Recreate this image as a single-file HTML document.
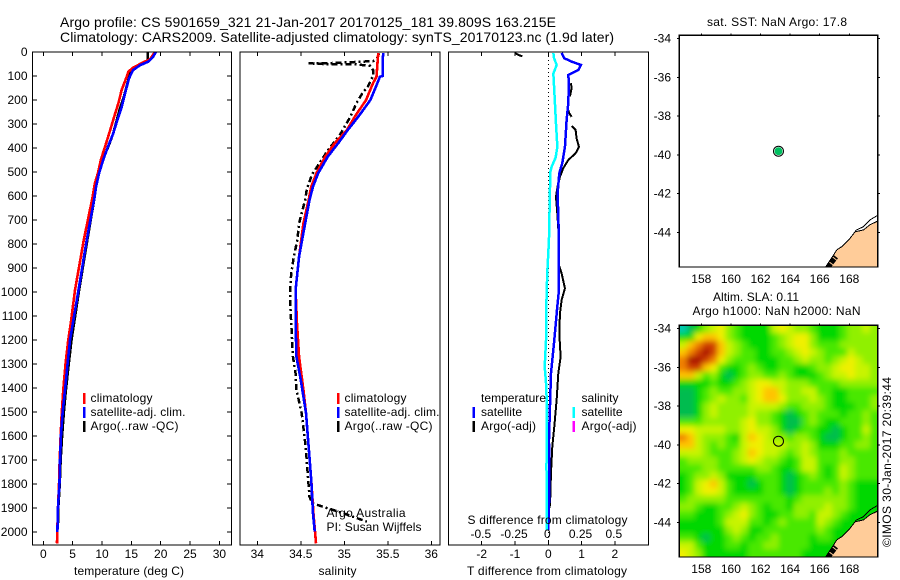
<!DOCTYPE html>
<html lang="en">
<head>
<meta charset="utf-8">
<title>Argo profile CS 5901659_321</title>
<style>
html,body{margin:0;padding:0;background:#fff;}
svg{display:block;}
text{font-family:"Liberation Sans",sans-serif;font-size:12px;fill:#000;}
.title{font-size:14px;}
.crisp{shape-rendering:crispEdges;}
</style>
</head>
<body>
<svg id="fig" xmlns="http://www.w3.org/2000/svg" width="900" height="580" viewBox="0 0 900 580">
  <defs>
    <clipPath id="clip-map1"><rect x="679.3" y="35.3" width="198.4" height="231.7"/></clipPath>
    <clipPath id="clip-map2"><rect x="679.3" y="325.3" width="198.4" height="231.7"/></clipPath>
    <filter id="smooth" filterUnits="userSpaceOnUse" x="640" y="290" width="260" height="290"><feGaussianBlur stdDeviation="3"/></filter>
  </defs>
  <rect width="900" height="580" fill="#fff"/>

  <text class="title" x="60" y="27" textLength="496">Argo profile: CS 5901659_321 21-Jan-2017 20170125_181 39.809S 163.215E</text>
  <text class="title" x="60" y="42" textLength="554">Climatology: CARS2009. Satellite-adjusted climatology: synTS_20170123.nc (1.9d later)</text>

  <g id="marks"></g>

  <rect class="crisp" x="32.5" y="52" width="199" height="493" fill="none" stroke="#000" stroke-width="1.4"/>
  <rect class="crisp" x="240" y="52" width="200" height="493" fill="none" stroke="#000" stroke-width="1.4"/>
  <rect class="crisp" x="448.5" y="52" width="200" height="493" fill="none" stroke="#000" stroke-width="1.4"/>
  <rect class="crisp" x="679.3" y="35.3" width="198.4" height="231.7" fill="none" stroke="#000" stroke-width="1.2"/>
  <rect class="crisp" x="679.3" y="325.3" width="198.4" height="231.7" fill="none" stroke="#000" stroke-width="1.2"/>

  <text x="129" y="575" text-anchor="middle" textLength="110">temperature (deg C)</text>
  <text x="337.5" y="575" text-anchor="middle" textLength="38">salinity</text>
  <text x="547" y="575" text-anchor="middle" textLength="160">T difference from climatology</text>
  <text x="547.5" y="524" text-anchor="middle" textLength="160">S difference from climatology</text>

  <g>
    <rect class="crisp" x="83" y="393" width="2.5" height="11" fill="#f00"/>
    <text x="90.5" y="402" textLength="62">climatology</text>
    <rect class="crisp" x="83" y="407" width="2.5" height="11" fill="#00f"/>
    <text x="90.5" y="416" textLength="95">satellite-adj. clim.</text>
    <rect class="crisp" x="83" y="421" width="2.5" height="11" fill="#000"/>
    <text x="90.5" y="430" textLength="88">Argo(..raw -QC)</text>
  </g>
  <g>
    <rect class="crisp" x="337" y="393" width="2.5" height="11" fill="#f00"/>
    <text x="344.5" y="402" textLength="62">climatology</text>
    <rect class="crisp" x="337" y="407" width="2.5" height="11" fill="#00f"/>
    <text x="344.5" y="416" textLength="95">satellite-adj. clim.</text>
    <rect class="crisp" x="337" y="421" width="2.5" height="11" fill="#000"/>
    <text x="344.5" y="430" textLength="88">Argo(..raw -QC)</text>
  </g>
  <text x="326.5" y="517" textLength="79">Argo Australia</text>
  <text x="326.5" y="531" textLength="95">PI: Susan Wijffels</text>

  <g>
    <text x="481" y="402" textLength="65">temperature</text>
    <rect class="crisp" x="472.5" y="407" width="2.5" height="11" fill="#00f"/>
    <text x="481" y="416" textLength="41">satellite</text>
    <rect class="crisp" x="472.5" y="421" width="2.5" height="11" fill="#000"/>
    <text x="481" y="430" textLength="55">Argo(-adj)</text>
    <text x="581.5" y="402" textLength="37">salinity</text>
    <rect class="crisp" x="572.5" y="407" width="2.5" height="11" fill="#0ff"/>
    <text x="581.5" y="416" textLength="41">satellite</text>
    <rect class="crisp" x="572.5" y="421" width="2.5" height="11" fill="#f0f"/>
    <text x="581.5" y="430" textLength="55">Argo(-adj)</text>
  </g>

  <text x="777" y="26" text-anchor="middle" textLength="140">sat. SST: NaN Argo: 17.8</text>
  <text x="756" y="301" text-anchor="middle" textLength="86">Altim. SLA: 0.11</text>
  <text x="776.5" y="315" text-anchor="middle" textLength="168">Argo h1000: NaN h2000: NaN</text>
  <text transform="translate(891,547) rotate(-90)" textLength="170">©IMOS 30-Jan-2017 20:39:44</text>
</svg>

<script>
// ---------- chart data ----------
const depthTicks = [0,100,200,300,400,500,600,700,800,900,1000,1100,1200,1300,1400,1500,1600,1700,1800,1900,2000];
const temperatureTicks = [0,5,10,15,20,25,30];
const salinityTicks = [34,34.5,35,35.5,36];
const salinityTickLabels = ['34','34.5','35','35.5','36'];
const tDiffTicks = [-2,-1,0,1,2];
const sDiffTicks = [-0.5,-0.25,0,0.25,0.5];
const sDiffTickLabels = ['-0.5','-0.25','0','0.25','0.5'];
const lonTicks = [158,160,162,164,166,168];
const latTicks = [-34,-36,-38,-40,-42,-44];

const tempClimDepth = [0,30,40,65,82,110,158,213,260,325,380,450,505,546,610,783,992,1132,1200,1296,1408,1500,1600,1730,1800,1900,2000,2047];
const tempClimValue = [19.0,18.2,17.3,15.3,14.5,14.1,13.35,12.8,12.2,11.4,10.7,9.8,9.3,8.8,8.35,6.9,5.4,4.67,4.25,3.8,3.4,3.15,2.95,2.75,2.68,2.5,2.38,2.33];
const tempSatDepth = [0,20,40,55,75,110,175,230,285,340,395,450,505,560,610,783,992,1200,1296,1408,1500,1600,1700,1800,1900,2000];
const tempSatValue = [19.2,18.7,17.9,16.5,15.3,14.6,13.9,13.35,12.6,11.9,11,10.2,9.5,9,8.7,7.4,6,4.55,4.15,3.7,3.3,3,2.85,2.75,2.5,2.4];
const tempArgoDepth = [0,30,40,68,90,115,180,240,340,380,440,490,540,610,783,992,1200,1296,1408,1500,1600,1700,1800,1900,1963];
const tempArgoValue = [17.8,17.8,17.6,15.4,14.8,14.5,13.8,13,11.9,11.3,10.3,9.6,9.1,8.7,7.5,6.1,4.8,4.35,3.85,3.5,3.2,2.95,2.8,2.55,2.5];

const salClimDepth = [4,103,130,200,270,325,380,436,505,561,617,714,853,992,1130,1270,1408,1505,1644,1783,1922,2047];
const salClimValue = [35.39,35.37,35.33,35.25,35.12,35.03,34.89,34.78,34.68,34.62,34.59,34.53,34.48,34.44,34.456,34.48,34.53,34.56,34.59,34.62,34.645,34.675];
const salSatDepth = [4,30,100,103,130,200,270,325,380,436,505,561,617,714,853,992,1130,1270,1367,1505,1644,1783,1922,1998];
const salSatValue = [35.45,35.44,35.44,35.41,35.38,35.3,35.16,35.04,34.93,34.81,34.7,34.64,34.6,34.55,34.48,34.44,34.44,34.45,34.5,34.56,34.59,34.62,34.64,34.66];
const salArgoDepth = [5,25,38,42,46,47,50,50,52,58,75,100,144,170,213,270,345,410,460,510,570,617,644,714,783,853,922,992,1061,1130,1200,1270,1339,1408,1505,1644,1783,1853,1880,1900,1922,1957];
const salArgoValue = [35.4,35.38,35.33,35.1,34.85,34.59,34.75,35.0,35.15,35.3,35.33,35.33,35.27,35.21,35.14,35.07,34.95,34.81,34.72,34.63,34.57,34.55,34.53,34.48,34.46,34.42,34.39,34.376,34.38,34.39,34.4,34.41,34.44,34.45,34.51,34.556,34.585,34.6,34.63,34.8,34.99,35.26];

const tDiffSatDepth = [4,26,40,54,75,96,130,213,283,395,463,505,588,783,922,992,1061,1200,1339,1478,1617,1756,1894,1992];
const tDiffSatValue = [0.4,0.48,0.7,0.98,0.9,0.6,0.62,0.6,0.55,0.5,0.42,0.33,0.28,0.32,0.32,0.32,0.27,0.18,0.08,0.05,0.02,0.03,0.02,0];
const tDiffArgoSurfaceDepth = [4,12,18];
const tDiffArgoSurfaceValue = [-1.0,-0.9,-0.78];
const tDiffArgoUpperDepth = [130,150,185];
const tDiffArgoUpperValue = [0.68,0.7,0.65];
const tDiffArgoMidDepth = [242,255,270];
const tDiffArgoMidValue = [0.6,0.63,0.7];
const tDiffArgoDepth = [308,325,360,395,422,450,484,520,560,603,672,783,880,922,985,1033,1090,1172,1270,1339,1450,1561,1644,1756,1853,1900];
const tDiffArgoValue = [0.7,0.82,0.85,0.92,0.82,0.6,0.45,0.35,0.28,0.23,0.27,0.32,0.3,0.4,0.5,0.4,0.35,0.33,0.37,0.3,0.25,0.18,0.12,0.08,0.06,0.04];
const sDiffSatDepth = [4,26,54,90,160,300,395,440,478,505,560,783,922,1061,1200,1311,1380,1478,1700,1728,1760,1992];
const sDiffSatValue = [0.038,0.043,0.063,0.038,0.045,0.058,0.068,0.055,0.025,0.013,0.013,0.005,-0.008,-0.015,-0.017,-0.027,-0.017,-0.01,-0.01,-0.017,-0.01,-0.01];

const profileLon = [163.215];
const profileLat = [-39.809];
const landLon = [166.4,166.8,167.15,167.55,168.05,168.4,168.95,169.4,169.95,169.95];
const landLat = [-45.78,-45.33,-44.9,-44.7,-44.3,-43.96,-43.87,-43.6,-43.4,-45.78];
const coastOuterLon = [168.4,168.95,169.4,169.95];
const coastOuterLat = [-43.9,-43.7,-43.35,-43.1];
const reefLon = [166.55,166.75,167.1];
const reefLat = [-45.82,-45.6,-45.25];

// SLA colour level of each grid cell (north to south, west to east)
const slaRows = [
[0,1,2,4,5,6,4,3,2,2,2,2,5,6,5,4,4,3,2,2,2,3,4,4,5,4],
[2,2,6,7,7,6,4,3,2,2,2,2,3,4,5,6,6,4,2,2,2,3,4,4,4,4],
[5,7,8,9,9,7,5,4,3,2,2,2,3,4,5,6,6,4,3,3,3,4,4,4,4,4],
[7,8,9,10,9,7,5,4,3,3,2,2,3,3,4,5,6,5,4,3,3,3,5,4,4,4],
[8,10,10,9,8,6,4,3,3,3,2,2,2,3,3,4,5,4,4,3,4,5,6,5,4,4],
[8,9,9,7,6,3,2,2,3,4,3,2,2,3,3,2,2,3,4,4,5,6,6,5,5,4],
[7,7,5,3,4,2,1,2,3,4,4,3,3,4,3,2,2,2,3,4,5,5,6,5,5,4],
[2,2,2,2,3,2,2,3,4,5,6,6,5,5,4,4,4,3,3,3,3,4,4,4,4,4],
[1,1,2,3,4,3,3,4,4,5,6,7,7,5,4,4,5,5,3,3,2,2,3,3,3,3],
[1,1,2,3,4,5,4,4,3,5,6,7,7,6,4,4,4,5,4,3,2,2,3,3,3,4],
[1,1,2,4,5,4,4,4,4,5,5,5,5,4,3,3,4,4,4,3,2,2,2,3,3,4],
[1,1,2,4,5,4,4,4,4,5,4,4,3,2,1,2,3,4,3,3,3,2,3,3,4,3],
[3,3,3,4,4,4,4,4,5,6,4,4,3,2,1,1,3,4,3,2,2,3,3,3,4,3],
[6,6,5,5,5,5,4,4,5,6,5,5,4,2,1,2,3,3,2,2,1,2,3,3,5,3],
[8,7,5,4,4,4,3,2,5,7,6,5,4,4,3,4,4,3,2,1,1,2,3,3,4,3],
[7,7,5,4,3,4,3,3,5,6,6,5,5,5,4,4,5,4,2,2,2,3,3,4,4,3],
[5,5,5,4,3,3,3,4,5,7,6,5,5,4,3,4,5,4,3,3,3,4,3,3,3,3],
[3,4,4,4,4,3,3,4,5,6,5,4,4,3,2,3,5,5,3,3,3,4,4,3,3,3],
[3,3,3,4,4,3,3,3,3,3,4,4,3,2,2,3,5,5,3,2,3,5,4,3,3,3],
[2,3,4,4,5,4,2,2,2,2,3,3,3,2,1,2,3,4,3,2,3,5,4,3,3,3],
[2,3,5,6,7,5,3,2,2,1,2,3,3,2,1,2,3,3,3,3,3,4,3,2,2,2],
[2,3,5,6,6,5,3,2,2,2,2,3,3,2,1,2,3,3,3,4,3,4,3,2,2,2],
[3,4,4,4,4,4,3,3,3,3,3,3,3,3,2,3,4,4,4,4,4,4,3,2,2,2],
[4,4,3,2,2,3,3,4,5,4,3,2,3,3,2,4,4,4,4,5,4,4,3,2,2,2],
[3,3,2,2,2,3,4,5,6,4,3,2,2,3,3,4,4,3,5,5,4,3,2,2,2,2],
[2,2,2,2,2,3,5,5,5,3,3,2,3,4,3,3,3,3,5,4,3,2,2,2,2,2],
[2,2,2,2,2,2,4,5,4,2,2,3,3,3,3,3,3,3,4,3,2,2,2,2,2,2],
[3,3,2,1,2,2,3,4,3,2,3,3,4,3,3,3,3,2,3,3,2,2,2,2,2,2],
[5,5,3,2,2,2,3,3,2,3,3,4,4,3,3,3,3,2,2,2,2,2,2,2,2,2],
[6,5,4,2,2,2,2,2,2,3,3,3,3,3,3,3,2,2,2,2,2,2,2,2,2,2]
];

// ---------- axis functions ----------
const yDepth = d => 52 + 0.24 * d;
const xTemp = t => 43.3 + 5.87 * t;
const xSal = s => 257.3 + 87 * (s - 34);
const xTDiff = t => 548.3 + 33.3 * t;
const xSDiff = s => 548.3 + 133 * s;
const xLon = lon => 701.3 + 14.8 * (lon - 158);
const yLatTop = lat => 77.3 + 19.4 * (-36 - lat);
const yLatBottom = lat => yLatTop(lat) + 290;

// ---------- drawing helpers ----------
const NS = 'http://www.w3.org/2000/svg';
const root = document.getElementById('marks');
function make(tag, parent, name) {
  const el = document.createElementNS(NS, tag);
  
  
  parent.appendChild(el);
  return el;
}
function line(parent, name, x1, y1, x2, y2) {
  const el = make('line', parent, name);
  el.setAttribute('x1', x1); el.setAttribute('y1', y1);
  el.setAttribute('x2', x2); el.setAttribute('y2', y2);
  el.setAttribute('stroke', '#000');
  el.setAttribute('stroke-width', '1');
  el.setAttribute('class', 'crisp');
  return el;
}
function label(parent, name, x, y, str, anchor) {
  const el = make('text', parent, name);
  el.setAttribute('x', x); el.setAttribute('y', y);
  el.setAttribute('text-anchor', anchor);
  el.textContent = str;
  return el;
}
function series(name, xs, ys, xFn, yFn, color, width, dash) {
  const el = make('polyline', root, name);
  el.setAttribute('points', xs.map((v, i) => xFn(v).toFixed(2) + ',' + yFn(ys[i]).toFixed(2)).join(' '));
  el.setAttribute('fill', 'none');
  el.setAttribute('stroke', color);
  el.setAttribute('stroke-width', width);
  el.setAttribute('class', 'crisp');
  if (dash) el.setAttribute('stroke-dasharray', dash);
  return el;
}

// ---------- maps ----------
const palette = ['#00c8b0','#00bc50','#00d800','#48e800','#90f000','#c8f400','#f0f000','#ffc400','#f08000','#d04000','#a81000'];
const colorFor = v => palette[Math.max(0, Math.min(palette.length - 1, Math.round(v)))];

const mapGroup1 = make('g', root, 'sst-map');
mapGroup1.setAttribute('clip-path', 'url(#clip-map1)');
const mapGroup2 = make('g', root, 'sla-map');
mapGroup2.setAttribute('clip-path', 'url(#clip-map2)');

const heat = make('g', mapGroup2, 'sla-heatmap');
heat.setAttribute('filter', 'url(#smooth)');
const mapLeft = 679.3, mapTop = 325.3, mapW = 198.4, mapH = 231.7;
slaRows.forEach((row, r) => {
  row.forEach((v, c) => {
    const cw = mapW / row.length, ch = mapH / slaRows.length;
    const cell = make('rect', heat, 'sla-cell');
    const pad = 12;
    const x0 = mapLeft + c * cw - (c === 0 ? pad : 0);
    const y0 = mapTop + r * ch - (r === 0 ? pad : 0);
    const x1 = mapLeft + (c + 1) * cw + (c === row.length - 1 ? pad : 0);
    const y1 = mapTop + (r + 1) * ch + (r === slaRows.length - 1 ? pad : 0);
    cell.setAttribute('x', x0.toFixed(2));
    cell.setAttribute('y', y0.toFixed(2));
    cell.setAttribute('width', (x1 - x0 + 0.5).toFixed(2));
    cell.setAttribute('height', (y1 - y0 + 0.5).toFixed(2));
    cell.setAttribute('fill', colorFor(v));
  });
});

function drawCoast(group, yLat) {
  const land = make('polygon', group, 'new-zealand-land');
  land.setAttribute('points', landLon.map((v, i) => xLon(v).toFixed(1) + ',' + yLat(landLat[i]).toFixed(1)).join(' '));
  land.setAttribute('fill', '#ffcc99');
  const coast = make('polyline', group, 'coastline');
  coast.setAttribute('points', landLon.slice(0, 9).map((v, i) => xLon(v).toFixed(1) + ',' + yLat(landLat[i]).toFixed(1)).join(' '));
  coast.setAttribute('fill', 'none');
  coast.setAttribute('stroke', '#000');
  coast.setAttribute('stroke-width', '1');
  coast.setAttribute('class', 'crisp');
  const outer = make('polyline', group, 'coastline-offshore');
  outer.setAttribute('points', coastOuterLon.map((v, i) => xLon(v).toFixed(1) + ',' + yLat(coastOuterLat[i]).toFixed(1)).join(' '));
  outer.setAttribute('fill', 'none');
  outer.setAttribute('stroke', '#000');
  outer.setAttribute('stroke-width', '1');
  outer.setAttribute('class', 'crisp');
  const reef = make('polyline', group, 'coastline-dense-islands');
  reef.setAttribute('points', reefLon.map((v, i) => xLon(v).toFixed(1) + ',' + yLat(reefLat[i]).toFixed(1)).join(' '));
  reef.setAttribute('fill', 'none');
  reef.setAttribute('stroke', '#000');
  reef.setAttribute('stroke-width', '5');
  reef.setAttribute('stroke-dasharray', '5 1');
}
drawCoast(mapGroup1, yLatTop);
drawCoast(mapGroup2, yLatBottom);

const marker1 = make('circle', mapGroup1, 'argo-position-marker');
marker1.setAttribute('cx', xLon(profileLon[0]));
marker1.setAttribute('cy', yLatTop(profileLat[0]));
marker1.setAttribute('r', '4');
marker1.setAttribute('fill', '#00c060');
const markerRing1 = make('circle', mapGroup1, 'argo-position-ring');
markerRing1.setAttribute('cx', xLon(profileLon[0]));
markerRing1.setAttribute('cy', yLatTop(profileLat[0]));
markerRing1.setAttribute('r', '5');
markerRing1.setAttribute('fill', 'none');
markerRing1.setAttribute('stroke', '#000');
markerRing1.setAttribute('stroke-width', '1');
const marker2 = make('circle', mapGroup2, 'argo-position-marker');
marker2.setAttribute('cx', xLon(profileLon[0]));
marker2.setAttribute('cy', yLatBottom(profileLat[0]));
marker2.setAttribute('r', '5');
marker2.setAttribute('fill', 'none');
marker2.setAttribute('stroke', '#000');
marker2.setAttribute('stroke-width', '1');

// ---------- profile series ----------
series('temperature-argo-line', tempArgoValue, tempArgoDepth, xTemp, yDepth, '#000', 2.6);
series('temperature-climatology-line', tempClimValue, tempClimDepth, xTemp, yDepth, '#f00', 2.6);
series('temperature-satellite-line', tempSatValue, tempSatDepth, xTemp, yDepth, '#00f', 2.6);

series('salinity-argo-line', salArgoValue, salArgoDepth, xSal, yDepth, '#000', 2.5, '6 3 2 3');
series('salinity-climatology-line', salClimValue, salClimDepth, xSal, yDepth, '#f00', 2.6);
series('salinity-satellite-line', salSatValue, salSatDepth, xSal, yDepth, '#00f', 2.6);

const zeroLine = line(root, 'zero-difference-line', xTDiff(0), yDepth(0), xTDiff(0), 545);
zeroLine.setAttribute('stroke-dasharray', '1 3');
series('t-difference-argo-surface-line', tDiffArgoSurfaceValue, tDiffArgoSurfaceDepth, xTDiff, yDepth, '#000', 2);
series('t-difference-argo-upper-line', tDiffArgoUpperValue, tDiffArgoUpperDepth, xTDiff, yDepth, '#000', 2);
series('t-difference-argo-mid-line', tDiffArgoMidValue, tDiffArgoMidDepth, xTDiff, yDepth, '#000', 2);
series('t-difference-argo-line', tDiffArgoValue, tDiffArgoDepth, xTDiff, yDepth, '#000', 2);
series('t-difference-satellite-line', tDiffSatValue, tDiffSatDepth, xTDiff, yDepth, '#00f', 2.5);
series('s-difference-satellite-line', sDiffSatValue, sDiffSatDepth, xSDiff, yDepth, '#0ff', 2.5);

// ---------- axes ----------
const axes = make('g', root, 'axes');
depthTicks.forEach(d => {
  line(axes, 'depth-tick-left', 32.5, yDepth(d), 37, yDepth(d));
  line(axes, 'depth-tick-right', 227, yDepth(d), 231.5, yDepth(d));
  label(axes, 'depth-tick-label', 27.5, yDepth(d) + 4, String(d), 'end');
});
temperatureTicks.forEach(t => {
  line(axes, 'temperature-tick-top', xTemp(t), 52, xTemp(t), 56);
  line(axes, 'temperature-tick-bottom', xTemp(t), 541, xTemp(t), 545);
  label(axes, 'temperature-tick-label', xTemp(t), 558, String(t), 'middle');
});
salinityTicks.forEach((s, i) => {
  line(axes, 'salinity-tick-top', xSal(s), 52, xSal(s), 56);
  line(axes, 'salinity-tick-bottom', xSal(s), 541, xSal(s), 545);
  label(axes, 'salinity-tick-label', xSal(s), 558, salinityTickLabels[i], 'middle');
});
tDiffTicks.forEach(t => {
  line(axes, 't-difference-tick-top', xTDiff(t), 52, xTDiff(t), 56);
  line(axes, 't-difference-tick-bottom', xTDiff(t), 541, xTDiff(t), 545);
  label(axes, 't-difference-tick-label', xTDiff(t), 558, String(t), 'middle');
});
sDiffTicks.forEach((s, i) => {
  label(axes, 's-difference-tick-label', xSDiff(s) - 1, 538, sDiffTickLabels[i], 'middle');
});
[[yLatTop, 35.3, 267], [yLatBottom, 325.3, 557]].forEach(([yLat, top, bottom]) => {
  lonTicks.forEach(lon => {
    line(axes, 'longitude-tick', xLon(lon), top - 2, xLon(lon), top);
    label(axes, 'longitude-tick-label', xLon(lon), bottom + 16, String(lon), 'middle');
  });
  latTicks.forEach(lat => {
    line(axes, 'latitude-tick-left', 677, yLat(lat), 679.3, yLat(lat));
    line(axes, 'latitude-tick-right', 877.7, yLat(lat), 880, yLat(lat));
    label(axes, 'latitude-tick-label', 671, yLat(lat) + 4, String(lat), 'end');
  });
});
</script>
</body>
</html>
